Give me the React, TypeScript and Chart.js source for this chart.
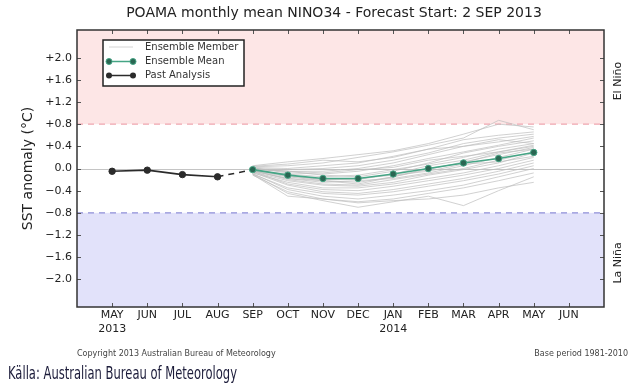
import React, { useEffect, useRef } from "react";
import { Chart, registerables } from "chart.js";

Chart.register(...registerables);

const FONT = "'DejaVu Sans', 'Liberation Sans', sans-serif";

const monthLabels = ["MAY", "JUN", "JUL", "AUG", "SEP", "OCT", "NOV", "DEC", "JAN", "FEB", "MAR", "APR", "MAY", "JUN"];
const yearLabels: Record<number, string> = { 0: "2013", 8: "2014" };
const yTickValues = [2.0, 1.6, 1.2, 0.8, 0.4, 0.0, -0.4, -0.8, -1.2, -1.6, -2.0];

const pastX = [0, 1, 2, 3];
const pastAnalysis = [-0.05, -0.03, -0.11, -0.15];

const connectorX = [3, 4];
const connectorY = [-0.15, -0.02];

const forecastX = [4, 5, 6, 7, 8, 9, 10, 11, 12];
const ensembleMean = [-0.02, -0.12, -0.18, -0.18, -0.1, 0.0, 0.1, 0.18, 0.29];

const ensembleMembers: number[][] = [
  [0.05, 0.12, 0.18, 0.25, 0.32, 0.45, 0.62, 0.8, 0.75],
  [0.03, 0.05, 0.1, 0.2, 0.3, 0.42, 0.55, 0.87, 0.7],
  [0.02, 0.0, 0.05, 0.1, 0.22, 0.35, 0.52, 0.6, 0.66],
  [0.0, -0.02, 0.0, 0.05, 0.15, 0.28, 0.45, 0.55, 0.62],
  [-0.01, -0.05, -0.05, 0.0, 0.1, 0.25, 0.4, 0.48, 0.58],
  [0.01, -0.08, -0.1, -0.05, 0.05, 0.18, 0.3, 0.42, 0.55],
  [-0.02, -0.05, -0.12, -0.15, -0.05, 0.1, 0.28, 0.4, 0.5],
  [-0.03, -0.1, -0.15, -0.12, -0.02, 0.08, 0.2, 0.35, 0.45],
  [-0.02, -0.12, -0.2, -0.2, -0.1, 0.05, 0.15, 0.3, 0.42],
  [-0.04, -0.15, -0.22, -0.25, -0.15, -0.02, 0.12, 0.25, 0.38],
  [-0.05, -0.18, -0.25, -0.22, -0.18, -0.08, 0.05, 0.2, 0.35],
  [-0.03, -0.2, -0.28, -0.3, -0.2, -0.1, 0.0, 0.15, 0.3],
  [-0.06, -0.22, -0.3, -0.32, -0.25, -0.12, -0.02, 0.1, 0.28],
  [-0.02, -0.14, -0.2, -0.18, -0.12, -0.05, 0.08, 0.12, 0.22],
  [-0.08, -0.25, -0.35, -0.35, -0.28, -0.18, -0.08, 0.05, 0.2],
  [-0.05, -0.28, -0.38, -0.4, -0.32, -0.22, -0.12, 0.0, 0.15],
  [-0.07, -0.3, -0.42, -0.45, -0.38, -0.28, -0.18, -0.05, 0.1],
  [-0.1, -0.35, -0.45, -0.48, -0.42, -0.32, -0.22, -0.1, 0.05],
  [-0.09, -0.38, -0.5, -0.55, -0.48, -0.4, -0.3, -0.15, 0.0],
  [-0.12, -0.42, -0.55, -0.6, -0.55, -0.45, -0.35, -0.22, -0.08],
  [-0.1, -0.45, -0.58, -0.7, -0.6, -0.5, -0.67, -0.4, -0.15],
  [-0.11, -0.5, -0.55, -0.62, -0.58, -0.55, -0.48, -0.35, -0.25],
  [0.04, 0.08, 0.15, 0.12, 0.2, 0.35, 0.4, 0.52, 0.45],
  [0.0, -0.05, -0.08, -0.02, 0.02, 0.15, 0.22, 0.3, 0.4],
  [-0.04, -0.18, -0.22, -0.28, -0.15, 0.0, 0.1, 0.28, 0.35],
];

const MEAN_LINE = "#45a585";
const MEAN_FILL = "#2a6652";
const PAST_COLOR = "#2b2b2b";
const MEMBER_COLOR = "rgba(190,190,190,0.7)";

const fmtTick = (v: number) => {
  if (Math.abs(v) < 1e-9) return "0.0";
  return (v > 0 ? "+" : "\u2212") + Math.abs(v).toFixed(1);
};

const decorPlugin = {
  id: "decor",
  beforeDatasetsDraw(chart: any) {
    const { ctx, chartArea: a, scales } = chart;
    const y = scales.y;
    const yHi = y.getPixelForValue(0.8);
    const yLo = y.getPixelForValue(-0.8);
    const y0 = y.getPixelForValue(0);
    ctx.save();
    ctx.fillStyle = "#fde6e6";
    ctx.fillRect(a.left, a.top, a.right - a.left, yHi - a.top);
    ctx.fillStyle = "#e2e2fa";
    ctx.fillRect(a.left, yLo, a.right - a.left, a.bottom - yLo);
    ctx.lineWidth = 1.2;
    ctx.setLineDash([6, 5]);
    ctx.strokeStyle = "#f0a6b0";
    ctx.beginPath();
    ctx.moveTo(a.left, yHi);
    ctx.lineTo(a.right, yHi);
    ctx.stroke();
    ctx.strokeStyle = "#8e8ed8";
    ctx.beginPath();
    ctx.moveTo(a.left, yLo);
    ctx.lineTo(a.right, yLo);
    ctx.stroke();
    ctx.setLineDash([]);
    ctx.strokeStyle = "#c4c4c4";
    ctx.lineWidth = 1;
    ctx.beginPath();
    ctx.moveTo(a.left, Math.round(y0) + 0.5);
    ctx.lineTo(a.right, Math.round(y0) + 0.5);
    ctx.stroke();
    ctx.restore();
  },
  afterDatasetsDraw(chart: any) {
    const { ctx, chartArea: a, scales } = chart;
    const x = scales.x;
    const y = scales.y;
    ctx.save();
    // inner tick marks
    ctx.strokeStyle = "#555";
    ctx.lineWidth = 1;
    for (let i = 0; i < monthLabels.length; i++) {
      const px = Math.round(x.getPixelForValue(i)) + 0.5;
      ctx.beginPath();
      ctx.moveTo(px, a.top);
      ctx.lineTo(px, a.top + 4);
      ctx.moveTo(px, a.bottom);
      ctx.lineTo(px, a.bottom - 4);
      ctx.stroke();
    }
    for (const v of yTickValues) {
      const py = Math.round(y.getPixelForValue(v)) + 0.5;
      ctx.beginPath();
      ctx.moveTo(a.left, py);
      ctx.lineTo(a.left + 4, py);
      ctx.moveTo(a.right, py);
      ctx.lineTo(a.right - 4, py);
      ctx.stroke();
    }
    // frame
    ctx.strokeStyle = "#333";
    ctx.lineWidth = 1.5;
    ctx.strokeRect(a.left, a.top, a.right - a.left, a.bottom - a.top);

    // legend
    const lx = a.left + 26;
    const ly = a.top + 10;
    ctx.fillStyle = "#ffffff";
    ctx.fillRect(lx, ly, 141, 46);
    ctx.strokeStyle = "#222";
    ctx.lineWidth = 1.5;
    ctx.strokeRect(lx, ly, 141, 46);
    const rows = [ly + 7, ly + 21.5, ly + 35.5];
    const sx0 = lx + 6;
    const sx1 = lx + 30;
    // member
    ctx.strokeStyle = "#d4d4d4";
    ctx.lineWidth = 1;
    ctx.beginPath();
    ctx.moveTo(sx0, rows[0]);
    ctx.lineTo(sx1, rows[0]);
    ctx.stroke();
    // mean
    ctx.strokeStyle = MEAN_LINE;
    ctx.lineWidth = 1.5;
    ctx.beginPath();
    ctx.moveTo(sx0, rows[1]);
    ctx.lineTo(sx1, rows[1]);
    ctx.stroke();
    for (const cx of [sx0, sx1]) {
      ctx.beginPath();
      ctx.arc(cx, rows[1], 3, 0, Math.PI * 2);
      ctx.fillStyle = MEAN_FILL;
      ctx.fill();
      ctx.lineWidth = 1;
      ctx.strokeStyle = MEAN_LINE;
      ctx.stroke();
    }
    // past
    ctx.strokeStyle = PAST_COLOR;
    ctx.lineWidth = 1.5;
    ctx.beginPath();
    ctx.moveTo(sx0, rows[2]);
    ctx.lineTo(sx1, rows[2]);
    ctx.stroke();
    for (const cx of [sx0, sx1]) {
      ctx.beginPath();
      ctx.arc(cx, rows[2], 3, 0, Math.PI * 2);
      ctx.fillStyle = PAST_COLOR;
      ctx.fill();
    }
    ctx.fillStyle = "#333";
    ctx.font = `10px ${FONT}`;
    ctx.textBaseline = "middle";
    ctx.textAlign = "left";
    ctx.fillText("Ensemble Member", lx + 42, rows[0]);
    ctx.fillText("Ensemble Mean", lx + 42, rows[1]);
    ctx.fillText("Past Analysis", lx + 42, rows[2]);
    ctx.restore();
  },
  afterDraw(chart: any) {
    const { ctx, chartArea: a, scales } = chart;
    const y = scales.y;
    ctx.save();
    // title
    ctx.fillStyle = "#222";
    ctx.font = `14px ${FONT}`;
    ctx.textAlign = "center";
    ctx.textBaseline = "middle";
    ctx.fillText("POAMA monthly mean NINO34 - Forecast Start: 2 SEP 2013", 334, 13);

    // El Niño / La Niña
    ctx.font = `11px ${FONT}`;
    const drawV = (t: string, cx: number, cy: number) => {
      ctx.save();
      ctx.translate(cx, cy);
      ctx.rotate(-Math.PI / 2);
      ctx.textAlign = "center";
      ctx.textBaseline = "middle";
      ctx.fillText(t, 0, 0);
      ctx.restore();
    };
    drawV("El Ni\u00f1o", a.right + 14, (a.top + y.getPixelForValue(0.8)) / 2 + 4);
    drawV("La Ni\u00f1a", a.right + 14, (a.bottom + y.getPixelForValue(-0.8)) / 2 + 3);

    // footer texts
    ctx.fillStyle = "#444";
    ctx.font = `8px ${FONT}`;
    ctx.textBaseline = "middle";
    ctx.textAlign = "left";
    ctx.fillText("Copyright 2013 Australian Bureau of Meteorology", a.left, 354);
    ctx.textAlign = "right";
    ctx.fillText("Base period 1981-2010", 628, 354);

    ctx.fillStyle = "#1c1c3a";
    ctx.font = `17px 'Liberation Sans Narrow', 'DejaVu Sans Condensed', ${FONT}`;
    ctx.textAlign = "left";
    ctx.fillText("K\u00e4lla: Australian Bureau of Meteorology", 8, 375, 229);
    ctx.restore();
  },
};

export default function App() {
  const canvasRef = useRef<HTMLCanvasElement | null>(null);

  useEffect(() => {
    const canvas = canvasRef.current;
    if (!canvas) return;

    const toPts = (xs: number[], ys: number[]) => xs.map((xv, i) => ({ x: xv, y: ys[i] }));

    const datasets: any[] = [
      {
        label: "Ensemble Mean",
        data: toPts(forecastX, ensembleMean),
        borderColor: MEAN_LINE,
        borderWidth: 1.6,
        pointRadius: 3.2,
        pointBackgroundColor: MEAN_FILL,
        pointBorderColor: MEAN_LINE,
        pointBorderWidth: 1,
        tension: 0,
      },
      {
        label: "Past Analysis",
        data: toPts(pastX, pastAnalysis),
        borderColor: PAST_COLOR,
        borderWidth: 1.6,
        pointRadius: 3.2,
        pointBackgroundColor: PAST_COLOR,
        pointBorderColor: PAST_COLOR,
        pointBorderWidth: 1,
        tension: 0,
      },
      {
        label: "Connector",
        data: toPts(connectorX, connectorY),
        borderColor: PAST_COLOR,
        borderWidth: 1.5,
        borderDash: [6, 5],
        pointRadius: 0,
      },
      ...ensembleMembers.map((m, i) => ({
        label: `Member ${i + 1}`,
        data: toPts(forecastX, m),
        borderColor: MEMBER_COLOR,
        borderWidth: 1,
        pointRadius: 0,
        tension: 0,
      })),
    ];

    const chart = new Chart(canvas, {
      type: "line",
      data: { datasets },
      plugins: [decorPlugin],
      options: {
        animation: false,
        responsive: false,
        devicePixelRatio: 1,
        layout: { padding: { top: 30, right: 31, left: 0, bottom: 0 } },
        plugins: {
          legend: { display: false },
          tooltip: { enabled: false },
          title: { display: false },
        },
        scales: {
          x: {
            type: "linear",
            min: -1,
            max: 14,
            grid: { display: false, drawTicks: false },
            border: { display: false },
            afterBuildTicks: (scale: any) => {
              scale.ticks = monthLabels.map((_, i) => ({ value: i }));
            },
            afterFit: (scale: any) => {
              scale.height = 79;
            },
            ticks: {
              autoSkip: false,
              maxRotation: 0,
              padding: 2,
              color: "#222",
              font: { family: FONT, size: 11 },
              callback: (v: any) => {
                const i = Math.round(Number(v));
                const m = monthLabels[i] ?? "";
                return yearLabels[i] ? [m, yearLabels[i]] : m;
              },
            },
          },
          y: {
            type: "linear",
            min: -2.5,
            max: 2.5,
            grid: { display: false, drawTicks: false },
            border: { display: false },
            afterBuildTicks: (scale: any) => {
              scale.ticks = yTickValues.map((v) => ({ value: v }));
            },
            afterFit: (scale: any) => {
              scale.width = 77;
            },
            ticks: {
              padding: 5,
              color: "#222",
              font: { family: FONT, size: 11 },
              callback: (v: any) => fmtTick(Number(v)),
            },
            title: {
              display: true,
              text: "SST anomaly (\u00b0C)",
              color: "#222",
              font: { family: FONT, size: 14 },
              padding: { top: 20, bottom: 0 },
            },
          },
        },
      },
    });

    return () => chart.destroy();
  }, []);

  return (
    <div style={{ position: "absolute", left: 0, top: 0, width: 635, height: 386, background: "#fff" }}>
      <canvas ref={canvasRef} width={635} height={386} style={{ display: "block" }} />
    </div>
  );
}
